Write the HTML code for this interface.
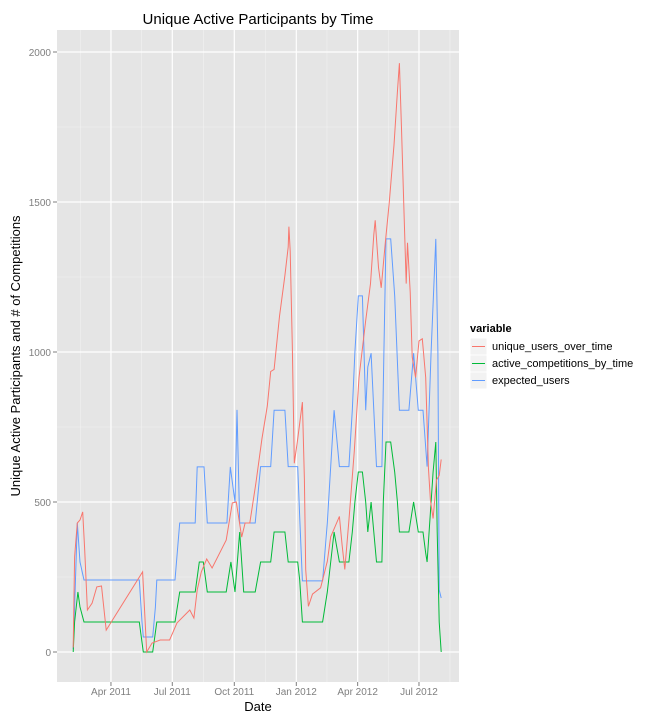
<!DOCTYPE html>
<html><head><meta charset="utf-8"><style>
body{margin:0;background:#fff;font-family:"Liberation Sans",sans-serif;}
svg text{font-family:"Liberation Sans",sans-serif;}
</style></head><body>
<svg id="c" width="648" height="720" xmlns="http://www.w3.org/2000/svg">
<text x="258" y="24" text-anchor="middle" font-size="15" fill="#000">Unique Active Participants by Time</text>
<text x="258" y="711" text-anchor="middle" font-size="13" fill="#000">Date</text>
<text transform="translate(20,356) rotate(-90)" text-anchor="middle" font-size="13" fill="#000">Unique Active Participants and # of Competitions</text>
<rect x="57" y="30" width="402" height="652" fill="#e5e5e5"/>
<g id="grid"></g><g id="series"></g><g id="axes"></g>
<g>
<text x="470" y="332" font-size="11" font-weight="bold">variable</text>
<g><rect x="470" y="338" width="17" height="17" fill="#f2f2f2" stroke="#fff"/><line x1="472" x2="485" y1="346.5" y2="346.5" stroke="#F8766D"/><text x="492" y="350" font-size="11">unique_users_over_time</text></g>
<g><rect x="470" y="355" width="17" height="17" fill="#f2f2f2" stroke="#fff"/><line x1="472" x2="485" y1="363.5" y2="363.5" stroke="#00BA38"/><text x="492" y="367" font-size="11">active_competitions_by_time</text></g>
<g><rect x="470" y="372" width="17" height="17" fill="#f2f2f2" stroke="#fff"/><line x1="472" x2="485" y1="380.5" y2="380.5" stroke="#619CFF"/><text x="492" y="384" font-size="11">expected_users</text></g>
</g>
</svg>
<script>
// days since 2011-01-01
const redDays=[34,36,40,44,48,51,55,62,69,76,83,137,143,151,163,177,188,207,213,218,224,232,240,261,270,276,284,289,296,305,314,322,327,332,340,348,353,354,356,359,362,367,374,377,379,383,389,401,411,416,429,433,437,443,451,458,468,475,480,482,487,491,497,503,510,515,518,521,525,528,530,534,537,542,547,552,557,561,564,568,573,577,580];
const redVals=[15,317,430,440,467,340,140,163,217,220,73,267,0,30,40,40,97,140,113,207,267,310,280,373,497,500,383,430,430,563,710,820,935,942,1119,1255,1350,1418,1336,1023,629,710,833,574,275,152,193,214,302,384,452,357,275,438,670,915,1105,1228,1391,1439,1282,1214,1364,1500,1690,1867,1963,1745,1445,1228,1364,1200,983,915,1037,1044,915,615,506,445,574,588,642];
const greenDays=[34,36,41,44,50,132,138,152,158,185,192,215,221,227,233,261,268,274,281,287,304,312,327,332,348,353,367,370,374,404,411,416,421,429,443,448,452,457,463,468,471,476,480,484,492,494,498,505,511,515,518,532,539,546,553,557,559,565,568,572,574,577,580];
const greenVals=[0,100,200,150,100,100,0,0,100,100,200,200,300,300,200,200,300,200,400,200,200,300,300,400,400,300,300,240,100,100,200,300,400,300,300,400,500,600,600,500,400,500,400,300,300,500,700,700,600,500,400,400,500,400,400,330,300,500,600,700,400,100,0];
const blueDays=[34,36,40,44,50,132,136,138,152,156,158,185,192,215,218,228,233,262,267,274,277,281,304,312,327,332,348,353,367,370,374,404,411,416,421,429,443,448,452,457,463,468,471,476,480,484,492,495,498,505,511,518,532,539,546,553,559,565,572,575,577,580];
const blueVals=[10,150,430,300,240,240,100,50,50,150,240,240,430,430,617,617,430,430,617,500,807,430,430,618,618,806,806,618,618,450,237,237,430,618,806,618,618,806,1000,1187,1187,806,950,996,806,618,618,1000,1377,1377,1187,806,806,996,806,806,618,1000,1377,1000,207,180];
const yTicks=[0,500,1000,1500,2000];
const xTickDays=[90,181,273,365,456,547];
const xTickLabels=["Apr 2011","Jul 2011","Oct 2011","Jan 2012","Apr 2012","Jul 2012"];

const NS="http://www.w3.org/2000/svg";
const X=d=>50.3+d*0.674;
const Y=v=>652-v*0.3;
function mk(tag,attrs,parent){const e=document.createElementNS(NS,tag);for(const k in attrs)e.setAttribute(k,attrs[k]);parent.appendChild(e);return e;}
const grid=document.getElementById('grid'),axes=document.getElementById('axes'),ser=document.getElementById('series');
// minor y
for(let i=0;i<yTicks.length-1;i++){const v=(yTicks[i]+yTicks[i+1])/2;
 const l=mk('line',{x1:57,x2:459,y1:Y(v),y2:Y(v),stroke:'#f2f2f2','stroke-width':0.6},grid);
 
 }
// minor x
const minorX=[xTickDays[0]-45.5];for(let i=0;i<xTickDays.length-1;i++)minorX.push((xTickDays[i]+xTickDays[i+1])/2);minorX.push(xTickDays[xTickDays.length-1]+46);
minorX.forEach(d=>{const l=mk('line',{x1:X(d),x2:X(d),y1:30,y2:682,stroke:'#f2f2f2','stroke-width':0.6},grid);
 
 });
yTicks.forEach(v=>{const l=mk('line',{x1:57,x2:459,y1:Y(v),y2:Y(v),stroke:'#fff','stroke-width':1.2},grid);
 
 
 const t=mk('text',{x:51,y:Y(v)+4,'text-anchor':'end','font-size':10,fill:'#7f7f7f'},axes);t.textContent=v;
 
 
 mk('line',{x1:53,x2:57,y1:Y(v),y2:Y(v),stroke:'#7f7f7f'},axes);});
xTickDays.forEach((d,i)=>{const l=mk('line',{x1:X(d),x2:X(d),y1:30,y2:682,stroke:'#fff','stroke-width':1.2},grid);
 
 
 const t=mk('text',{x:X(d),y:695,'text-anchor':'middle','font-size':10,fill:'#7f7f7f'},axes);t.textContent=xTickLabels[i];
 
 
 mk('line',{x1:X(d),x2:X(d),y1:682,y2:686,stroke:'#7f7f7f'},axes);});
function line(days,vals,color,name){const p=days.map((d,i)=>(i?'L':'M')+X(d).toFixed(1)+','+Y(vals[i]).toFixed(1)).join('');
 const e=mk('path',{d:p,fill:'none',stroke:color,'stroke-width':1},ser);
 
 }
line(blueDays,blueVals,'#619CFF','expected-users-line');
line(greenDays,greenVals,'#00BA38','active-competitions-line');
line(redDays,redVals,'#F8766D','unique-users-line');
</script>
</body></html>
